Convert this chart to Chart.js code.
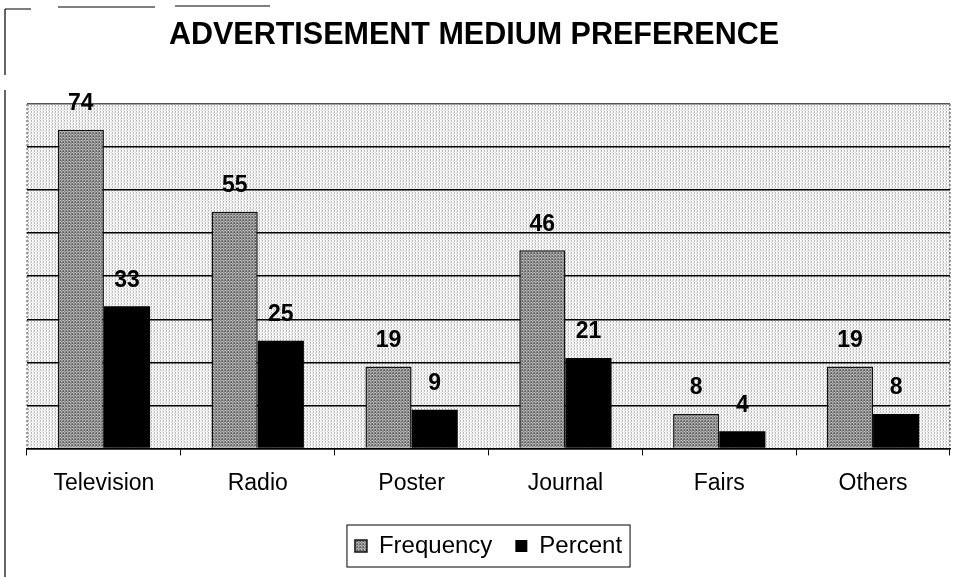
<!DOCTYPE html>
<html>
<head>
<meta charset="utf-8">
<script src="https://cdn.jsdelivr.net/npm/chart.js@4.4.0/dist/chart.umd.min.js"></script>
<style>
  body { margin: 0; background: #fff; }
  #wrap { width: 963px; height: 577px; position: relative; }
</style>
</head>
<body>
<div id="wrap"><canvas id="adChart" width="963" height="577"></canvas></div>
<script>
// categories and values
const chartTitle = 'ADVERTISEMENT MEDIUM PREFERENCE';
const categories = ['Television', 'Radio', 'Poster', 'Journal', 'Fairs', 'Others'];
const frequency = [74, 55, 19, 46, 8, 19];
const percent = [33, 25, 9, 21, 4, 8];

const FONT = 'Arial, "Liberation Sans", sans-serif';

// small speckle patterns to mimic the scanned fills
function makePattern(cells, size) {
  const c = document.createElement('canvas');
  c.width = size; c.height = size;
  const g = c.getContext('2d');
  for (let y = 0; y < size; y++) {
    for (let x = 0; x < size; x++) {
      g.fillStyle = cells[(y * size + x) % cells.length];
      g.fillRect(x, y, 1, 1);
    }
  }
  return g.createPattern(c, 'repeat');
}
const barPattern = makePattern(['#6e6e6e', '#b4b4b4', '#8c8c8c', '#5a5a5a', '#a0a0a0', '#7a7a7a', '#c8c8c8', '#888888', '#969696'], 3);
const bgPattern = makePattern(['#ffffff', '#b0b0b0', '#ffffff', '#e6e6e6', '#c4c4c4', '#ffffff', '#d8d8d8', '#ffffff', '#f0f0f0'], 3);

const plotBackground = {
  id: 'plotBackground',
  beforeDraw(chart) {
    const { ctx, chartArea: a } = chart;
    ctx.save();
    ctx.fillStyle = bgPattern;
    ctx.fillRect(a.left, a.top, a.right - a.left, a.bottom - a.top);
    ctx.setLineDash([2, 2]);
    ctx.strokeStyle = '#444';
    ctx.lineWidth = 1;
    ctx.beginPath();
    ctx.moveTo(a.right, a.top);
    ctx.lineTo(a.right, a.bottom);
    ctx.moveTo(a.left, a.top);
    ctx.lineTo(a.left, a.bottom);
    ctx.stroke();
    ctx.restore();
  },
  afterDraw(chart) {
    const { ctx } = chart;
    ctx.save();
    // title, a little left of the plot centre as in the scan
    ctx.font = 'bold 30.5px ' + FONT;
    ctx.fillStyle = '#000';
    ctx.textAlign = 'center';
    ctx.textBaseline = 'middle';
    ctx.fillText(chartTitle, 474, 36);
    // outer frame of the scanned page
    ctx.strokeStyle = '#000';
    ctx.lineWidth = 1.2;
    ctx.beginPath();
    ctx.moveTo(5, 9); ctx.lineTo(5, 75);
    ctx.moveTo(5, 90); ctx.lineTo(5, 577);
    ctx.moveTo(5, 9); ctx.lineTo(31, 9);
    ctx.moveTo(58, 7); ctx.lineTo(155, 7);
    ctx.moveTo(175, 6); ctx.lineTo(270, 6);
    ctx.stroke();
    // legend frame
    const boxes = chart.legend.legendHitBoxes;
    if (boxes && boxes.length) {
      const l = Math.min(...boxes.map(b => b.left)) - 8;
      const r = Math.max(...boxes.map(b => b.left + b.width)) + 8;
      const t = Math.min(...boxes.map(b => b.top)) - 9;
      const btm = Math.max(...boxes.map(b => b.top + b.height)) + 9;
      ctx.lineWidth = 1;
      ctx.strokeRect(l, t, r - l, btm - t);
    }
    ctx.restore();
  }
};

const valueLabels = {
  id: 'valueLabels',
  afterDatasetsDraw(chart) {
    const { ctx } = chart;
    ctx.save();
    ctx.font = 'bold 23px ' + FONT;
    ctx.fillStyle = '#000';
    ctx.textAlign = 'center';
    ctx.textBaseline = 'middle';
    chart.data.datasets.forEach((ds, i) => {
      chart.getDatasetMeta(i).data.forEach((bar, j) => {
        ctx.fillText(ds.data[j], bar.x, bar.y - 26);
      });
    });
    ctx.restore();
  }
};

const ctx = document.getElementById('adChart').getContext('2d');

const adChart = new Chart(ctx, {
  type: 'bar',
  data: {
    labels: categories,
    datasets: [{
      label: 'Frequency',
      data: frequency,
      backgroundColor: barPattern,
      borderColor: '#111',
      borderWidth: 1.5
    }, {
      label: 'Percent',
      data: percent,
      backgroundColor: '#000',
      borderColor: '#000',
      borderWidth: 0
    }]
  },
  options: {
    responsive: false,
    maintainAspectRatio: false,
    animation: false,
    categoryPercentage: 0.6,
    barPercentage: 1.0,
    layout: { padding: { left: 27, right: 13, top: 104, bottom: 9 } },
    plugins: {
      title: { display: false },
      legend: {
        position: 'bottom',
        labels: {
          color: '#000',
          boxWidth: 12,
          boxHeight: 12,
          padding: 23,
          font: { family: FONT, size: 24 }
        }
      },
      tooltip: { enabled: false }
    },
    scales: {
      x: {
        grid: { drawOnChartArea: false, drawTicks: true, tickLength: 7, color: '#000', offset: true },
        border: { display: true, color: '#000', width: 1.5 },
        ticks: {
          color: '#000',
          padding: 14,
          font: { family: FONT, size: 23 }
        }
      },
      y: {
        min: 0,
        max: 80,
        ticks: { display: false, stepSize: 10 },
        grid: {
          color: c => (c.tick && c.tick.value === 80 ? '#555' : '#000'),
          lineWidth: 1.5,
          drawTicks: false
        },
        border: { display: false }
      }
    }
  },
  plugins: [plotBackground, valueLabels]
});
</script>
</body>
</html>
